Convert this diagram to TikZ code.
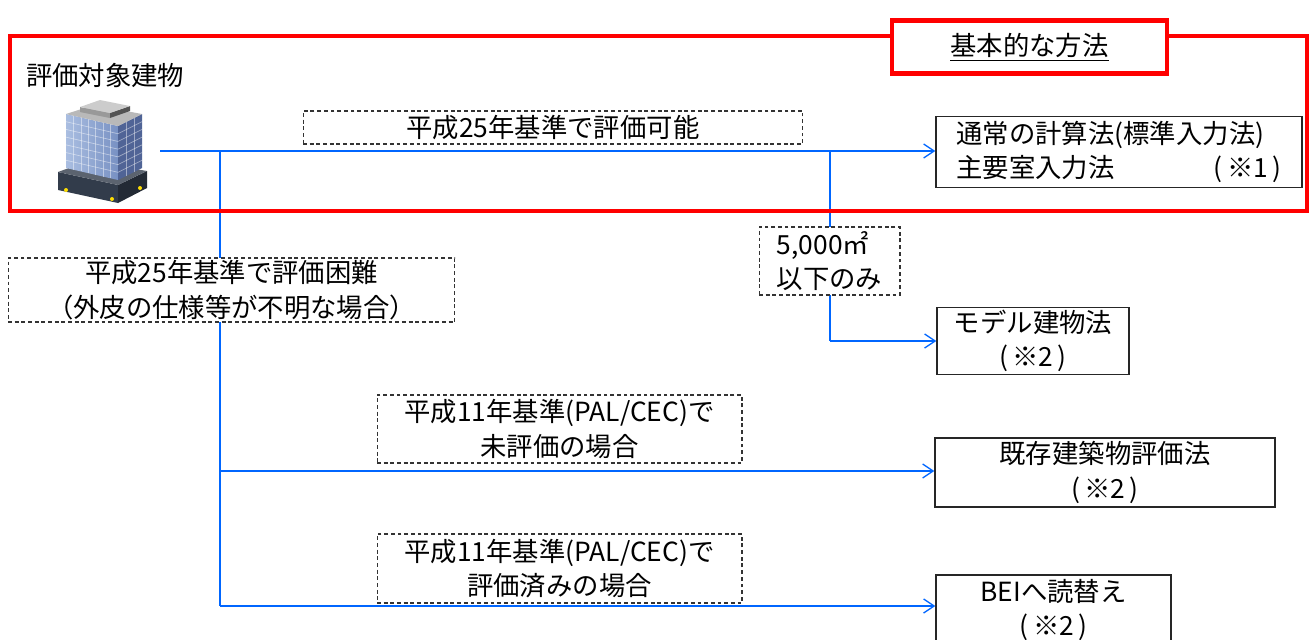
\documentclass[tikz,border=0pt]{standalone}
\usepackage{fontspec}
\setmainfont{Noto Sans CJK JP}
\usetikzlibrary{arrows.meta, positioning, backgrounds}

\definecolor{flowblue}{RGB}{0,102,255}
\definecolor{bldg_light}{RGB}{170,190,225}
\definecolor{bldg_mid}{RGB}{120,145,195}
\definecolor{bldg_dark}{RGB}{80,100,150}
\definecolor{bldg_base}{RGB}{50,60,75}

\tikzstyle{method_box} = [rectangle, draw=black!85, line width=0.8pt, fill=white, inner sep=0pt, align=center]
\tikzstyle{cond_box} = [rectangle, draw=black!80, line width=0.6pt, dash pattern=on 2.2pt off 1.6pt, fill=white, inner sep=0pt, align=center]
\tikzstyle{frame_red} = [draw=red, line width=2.3pt]
\tikzstyle{flow_arrow} = [draw=flowblue, line width=0.75pt, -{Straight Barb[length=6pt, width=8pt]}]
\tikzstyle{flow_trunk} = [draw=flowblue, line width=1.1pt]
\tikzstyle{win_line} = [white, opacity=0.45, line width=0.4pt]

\begin{document}
\begin{tikzpicture}[x=0.02cm, y=-0.02cm, every node/.append style={font=\fontsize{15pt}{19.5pt}\selectfont}]
\useasboundingbox (0,0) rectangle (1310,639);

% building icon
\fill[bldg_base] (58,172) -- (118,185) -- (118,203) -- (58,190) -- cycle;
\fill[bldg_base!70!black] (118,185) -- (147,171) -- (147,188) -- (118,203) -- cycle;
\fill[bldg_base!80!white] (58,172) -- (88,161) -- (147,171) -- (118,185) -- cycle;
\fill[yellow!80!orange] (66,190) circle (2) (112,199) circle (2) (140,188) circle (2);
\shade[left color=bldg_light, right color=bldg_mid] (66,114) -- (118,126) -- (118,180) -- (66,168) -- cycle;
\fill[bldg_dark] (118,126) -- (142,114) -- (142,168) -- (118,180) -- cycle;
\foreach \i in {1,...,6} {
  \draw[win_line] ({66+\i*52/7},{114+\i*12/7}) -- ({66+\i*52/7},{168+\i*12/7});
  \draw[win_line] (66,{114+\i*54/7}) -- (118,{126+\i*54/7});
  \draw[win_line] (118,{126+\i*54/7}) -- (142,{114+\i*54/7});
}
\draw[win_line] (126,122) -- (126,176) (134,118) -- (134,172);
\fill[gray!55] (66,114) -- (94,105) -- (142,114) -- (118,126) -- cycle;
\fill[gray!80] (80,107) -- (110,113) -- (110,118) -- (80,112) -- cycle;
\fill[gray!65!black] (110,113) -- (130,106) -- (130,111) -- (110,118) -- cycle;
\fill[gray!40] (80,107) -- (100,100) -- (130,106) -- (110,113) -- cycle;

\node (object_label) [anchor=west] at (20,75) {評価対象建物};

\coordinate (bldg_out) at (160,151);
\coordinate (split_a) at (220,151);
\coordinate (split_b) at (220,471);
\coordinate (split_c) at (220,606);
\coordinate (split_m) at (830,151);

% basic method frame
\draw[frame_red] (10,36) rectangle (1307,211);
\node (method_title) [rectangle, frame_red, fill=white, minimum width=5.5cm, minimum height=1.06cm] at (1029.5,47) {\underline{基本的な方法}};

% methods
\node (std_box) [method_box, minimum width=7.32cm, minimum height=1.42cm, text width=6.5cm, align=left] at (1119,152) {通常の計算法(標準入力法)\\主要室入力法\hfill(\,※1\,)};
\node (model_box) [method_box, minimum width=3.84cm, minimum height=1.34cm] at (1033,341) {モデル建物法\\(\,※2\,)};
\node (exist_box) [method_box, minimum width=6.8cm, minimum height=1.38cm] at (1105,472.5) {既存建築物評価法\\(\,※2\,)};
\node (bei_box) [method_box, minimum width=4.7cm, minimum height=1.4cm] at (1053.5,610) {BEIへ読替え\\(\,※2\,)};

% conditions
\node (possible_box) [cond_box, minimum width=10cm, minimum height=0.66cm] at (553,127.5) {平成25年基準で評価可能};
\node (hard_box) [cond_box, minimum width=8.94cm, minimum height=1.28cm] at (231.5,290) {平成25年基準で評価困難\\（外皮の仕様等が不明な場合）};
\node (area_box) [cond_box, minimum width=2.82cm, minimum height=1.36cm, align=left] at (829.5,261) {5,000㎡\\以下のみ};
\node (pal_none_box) [cond_box, minimum width=7.3cm, minimum height=1.36cm] at (559.5,429) {平成11年基準(PAL/CEC)で\\未評価の場合};
\node (pal_done_box) [cond_box, minimum width=7.3cm, minimum height=1.38cm] at (559.5,568.5) {平成11年基準(PAL/CEC)で\\評価済みの場合};

\begin{pgfonlayer}{background}
\draw[flow_arrow] (bldg_out) -- (bldg_out -| std_box.west);
\draw[flow_trunk] (split_a) -- (split_c);
\draw[flow_arrow] (split_b) -- (split_b -| exist_box.west);
\draw[flow_arrow] (split_c) -- (split_c -| bei_box.west);
\draw[flow_trunk] (split_m) -- (split_m |- model_box.west);
\draw[flow_arrow] (split_m |- model_box.west) -- (model_box.west);
\end{pgfonlayer}
\end{tikzpicture}
\end{document}
